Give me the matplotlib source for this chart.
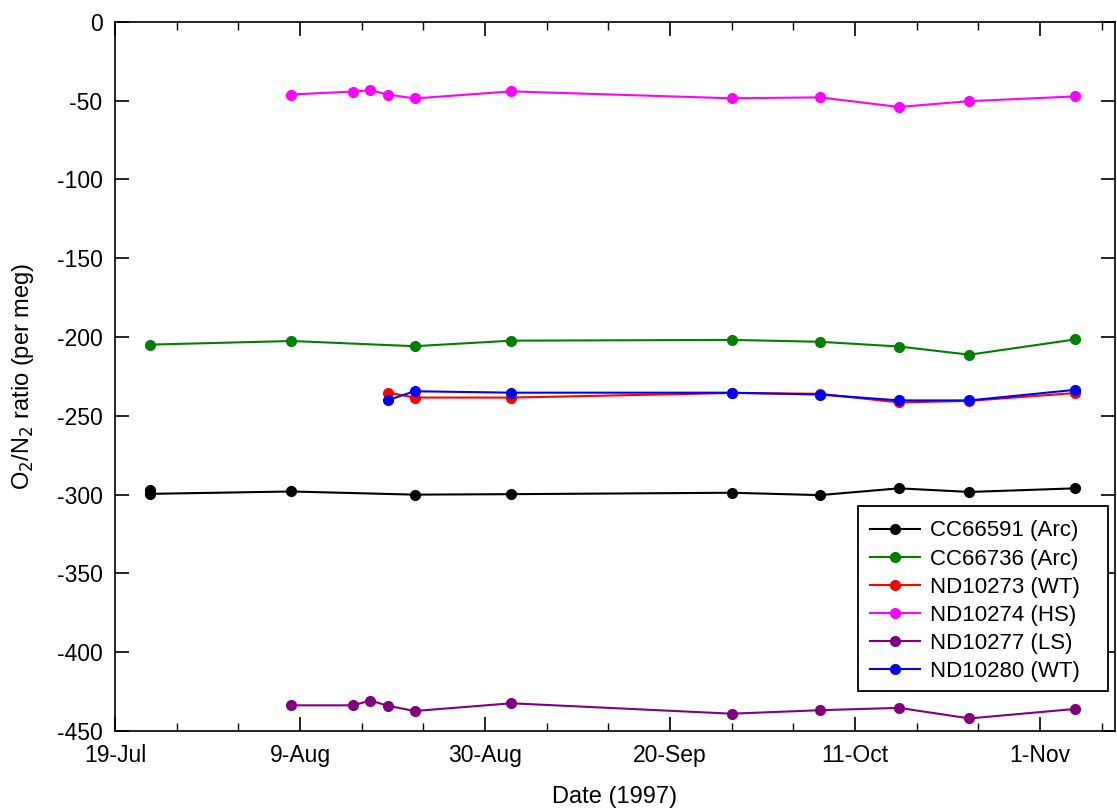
import datetime as dt
import matplotlib
matplotlib.use("Agg")
import matplotlib.pyplot as plt
import matplotlib.dates as mdates
import matplotlib.ticker as mticker
from matplotlib.patches import Rectangle

plt.rcParams['font.family'] = ['Liberation Sans', 'DejaVu Sans']
plt.rcParams['axes.unicode_minus'] = False

# ---- data (1997) ----
cc66591_dates = ["07-23", "07-23", "08-08", "08-22", "09-02", "09-27", "10-07", "10-16", "10-24", "11-05"]
cc66591_vals = [-297.0, -299.5, -298.0, -300.0, -299.7, -298.8, -300.3, -296.0, -298.3, -296.0]

cc66736_dates = ["07-23", "08-08", "08-22", "09-02", "09-27", "10-07", "10-16", "10-24", "11-05"]
cc66736_vals = [-204.8, -202.5, -205.8, -202.3, -201.8, -203.0, -206.0, -211.2, -201.5]

nd10273_dates = ["08-19", "08-22", "09-02", "09-27", "10-07", "10-16", "10-24", "11-05"]
nd10273_vals = [-235.2, -238.4, -238.4, -235.5, -236.0, -241.5, -240.5, -235.5]

nd10274_dates = ["08-08", "08-15", "08-17", "08-19", "08-22", "09-02", "09-27", "10-07", "10-16", "10-24", "11-05"]
nd10274_vals = [-46.1, -44.2, -43.4, -46.1, -48.6, -44.1, -48.5, -47.9, -54.0, -50.3, -47.3]

nd10277_dates = ["08-08", "08-15", "08-17", "08-19", "08-22", "09-02", "09-27", "10-07", "10-16", "10-24", "11-05"]
nd10277_vals = [-433.7, -433.7, -430.7, -434.0, -437.3, -432.4, -439.0, -436.8, -435.3, -442.0, -436.0]

nd10280_dates = ["08-19", "08-22", "09-02", "09-27", "10-07", "10-16", "10-24", "11-05"]
nd10280_vals = [-240.0, -234.4, -235.3, -235.3, -236.5, -240.2, -240.2, -233.5]

series = [
    ("CC66591 (Arc)", cc66591_dates, cc66591_vals, "black"),
    ("CC66736 (Arc)", cc66736_dates, cc66736_vals, "#008000"),
    ("ND10273 (WT)", nd10273_dates, nd10273_vals, "#ff0000"),
    ("ND10274 (HS)", nd10274_dates, nd10274_vals, "#ff00ff"),
    ("ND10277 (LS)", nd10277_dates, nd10277_vals, "#800080"),
    ("ND10280 (WT)", nd10280_dates, nd10280_vals, "#0000ff"),
]


def to_date(s):
    m, d = s.split("-")
    return dt.datetime(1997, int(m), int(d))


fig = plt.figure(figsize=(11.17, 8.10), dpi=100)
ax = fig.add_axes([0.103, 0.0975, 0.895, 0.8755])

for name, dates, vals, col in series:
    ax.plot([to_date(s) for s in dates], vals, color=col, lw=1.5,
            marker="o", markersize=7, label=name)

start = dt.datetime(1997, 7, 19)
ax.set_xlim(start, start + dt.timedelta(days=113.5))
ax.set_ylim(-450, 0)

major = [start + dt.timedelta(days=21 * i) for i in range(6)]
minor = [start + dt.timedelta(days=7 * i) for i in range(17)]
ax.xaxis.set_major_locator(mticker.FixedLocator(mdates.date2num(major)))
ax.xaxis.set_minor_locator(mticker.FixedLocator(mdates.date2num(minor)))
ax.xaxis.set_major_formatter(mticker.FuncFormatter(
    lambda x, pos: "{}-{}".format(mdates.num2date(x).day, mdates.num2date(x).strftime("%b"))))
ax.yaxis.set_major_locator(mticker.MultipleLocator(50))

ax.tick_params(which="both", direction="in", top=True, right=True, labelsize=16.5)
ax.tick_params(which="major", length=10, width=1.2)
ax.tick_params(which="minor", length=6, width=1.0)
ax.tick_params(axis="x", which="major", pad=9)
ax.tick_params(axis="y", which="major", pad=9)
for sp in ax.spines.values():
    sp.set_linewidth(1.2)

ax.set_xlabel("Date (1997)", fontsize=17, labelpad=14)
ax.set_ylabel("O$_2$/N$_2$ ratio (per meg)", fontsize=17, labelpad=15)

# legend box drawn separately so the padding matches the original
ax.add_patch(Rectangle((0.743, 0.056), 0.25, 0.261, transform=ax.transAxes,
                       facecolor="white", edgecolor="black", lw=1.3, zorder=4))
leg = ax.legend(loc="upper left", bbox_to_anchor=(0.755, 0.297), fontsize=16,
                frameon=False, borderpad=0, labelspacing=0.32, handlelength=2.25,
                handletextpad=0.45, borderaxespad=0)
leg.set_zorder(5)

fig.savefig("out.png", dpi=100)
